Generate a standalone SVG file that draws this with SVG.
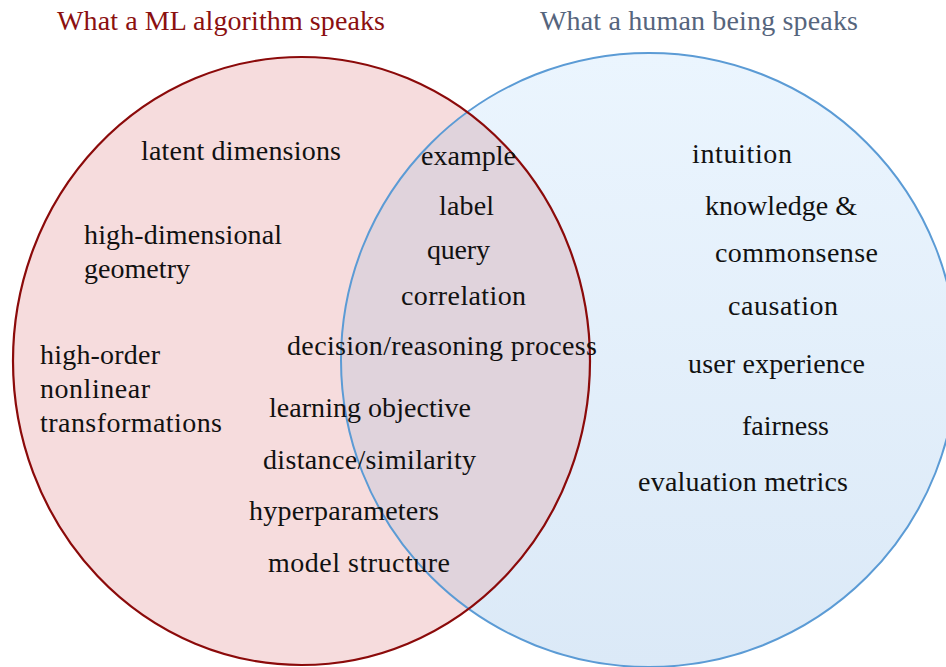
<svg xmlns="http://www.w3.org/2000/svg" width="946" height="667" viewBox="0 0 946 667">
  <style>
    .lbl { font-size: 28px; fill: #111; }
    .title { font-size: 28px; }
    .ml-title { fill: #8b1010; }
    .human-title { fill: #56657d; }
    .ml-edge { fill: none; stroke: #8b0a0a; stroke-width: 2.2; }
    .human-edge { fill: none; stroke: #5b9bd5; stroke-width: 2; }
  </style>
  <defs>
    <linearGradient id="humanFill" x1="0" y1="0" x2="0" y2="1">
      <stop offset="0" stop-color="#ebf5fe"/>
      <stop offset="1" stop-color="#dbe9f7"/>
    </linearGradient>
    <clipPath id="mlClip">
      <ellipse cx="301.5" cy="361" rx="288.5" ry="304"/>
    </clipPath>
  </defs>

  <rect width="946" height="667" fill="#ffffff"/>

  <!-- set fills -->
  <g id="set-ml">
    <ellipse cx="301.5" cy="361" rx="288.5" ry="304" fill="#f6dcdd"/>
  </g>
  <g id="set-human">
    <ellipse cx="649" cy="360" rx="308" ry="307" fill="url(#humanFill)"/>
  </g>
  <!-- shared region -->
  <g id="set-overlap">
    <ellipse cx="649" cy="360" rx="308" ry="307" fill="#e0d3dc" clip-path="url(#mlClip)"/>
  </g>

  <!-- outlines -->
  <g id="outlines">
    <ellipse class="human-edge" cx="649" cy="360" rx="308" ry="307"/>
    <ellipse class="ml-edge" cx="301.5" cy="361" rx="288.5" ry="304"/>
  </g>

  <g font-family="'Liberation Serif', 'Times New Roman', serif">
    <!-- headings -->
    <g id="titles">
      <text class="title ml-title" x="57" y="30" textLength="328">What a ML algorithm speaks</text>
      <text class="title human-title" x="540" y="30" textLength="318">What a human being speaks</text>
    </g>

    <!-- machine-only vocabulary -->
    <g id="ml-terms" class="lbl">
      <text x="141" y="160" textLength="200">latent dimensions</text>
      <text x="84" y="244" textLength="198">high-dimensional</text>
      <text x="84" y="278" textLength="106">geometry</text>
      <text x="40" y="364" textLength="120">high-order</text>
      <text x="40" y="398" textLength="110">nonlinear</text>
      <text x="40" y="432" textLength="182">transformations</text>
    </g>

    <!-- shared vocabulary -->
    <g id="shared-terms" class="lbl">
      <text x="421" y="165" textLength="95">example</text>
      <text x="439" y="215" textLength="55">label</text>
      <text x="427" y="259" textLength="63">query</text>
      <text x="401" y="305" textLength="125">correlation</text>
      <text x="287" y="355" textLength="310">decision/reasoning process</text>
      <text x="269" y="417" textLength="202">learning objective</text>
      <text x="263" y="469" textLength="213">distance/similarity</text>
      <text x="249" y="520" textLength="190">hyperparameters</text>
      <text x="268" y="572" textLength="182">model structure</text>
    </g>

    <!-- human-only vocabulary -->
    <g id="human-terms" class="lbl">
      <text x="692" y="163" textLength="100">intuition</text>
      <text x="705" y="215" textLength="152">knowledge &amp;</text>
      <text x="715" y="262" textLength="163">commonsense</text>
      <text x="728" y="315" textLength="110">causation</text>
      <text x="688" y="373" textLength="177">user experience</text>
      <text x="742" y="435" textLength="87">fairness</text>
      <text x="638" y="491" textLength="210">evaluation metrics</text>
    </g>
  </g>
</svg>
